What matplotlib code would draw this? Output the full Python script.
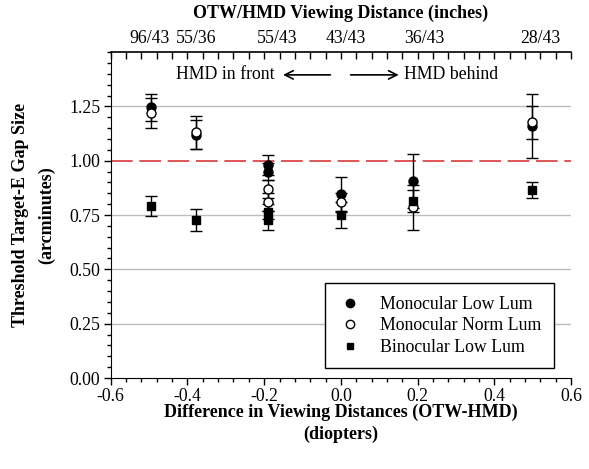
import numpy as np
import matplotlib.pyplot as plt
from matplotlib.ticker import MultipleLocator, FixedLocator, NullFormatter
from matplotlib.lines import Line2D

plt.rcParams['font.family'] = ['Liberation Serif', 'DejaVu Serif']

# Data (diopter differences, threshold gap sizes, errors)
x_pts = [-0.495, -0.378, -0.19, -0.19, 0.0, 0.188, 0.498]

mono_low = [1.245, 1.12, 0.98, 0.95, 0.845, 0.908, 1.16]
mono_low_err = [0.06, 0.067, 0.045, 0.04, 0.08, 0.125, 0.148]

mono_norm = [1.22, 1.13, 0.87, 0.81, 0.81, 0.785, 1.177]
mono_norm_err = [0.068, 0.077, 0.04, 0.04, 0.04, 0.105, 0.076]

bino_low = [0.793, 0.727, 0.765, 0.725, 0.75, 0.815, 0.864]
bino_low_err = [0.046, 0.049, 0.035, 0.045, 0.06, 0.05, 0.036]

top_pos = [-0.5, -0.376, -0.167, 0.013, 0.217, 0.52]
top_labels = ['96/43', '55/36', '55/43', '43/43', '36/43', '28/43']

fig = plt.figure(figsize=(5.89, 4.69), dpi=100)
ax = fig.add_axes([0.188, 0.194, 0.7815, 0.695])

# grid lines and criterion
for yy in [0.25, 0.5, 0.75, 1.25]:
    ax.axhline(yy, color='#bdbdbd', lw=1, zorder=0)
ax.axhline(1.0, color='#d83838', lw=1.2, dashes=(13, 4), zorder=1)

ekw = dict(ecolor='black', elinewidth=1, capsize=4.3, capthick=1, ls='none', zorder=3)
ax.errorbar(x_pts, mono_low, yerr=mono_low_err, fmt='o', color='black', ms=6.5, **ekw)
ax.errorbar(x_pts, mono_norm, yerr=mono_norm_err, fmt='o', mfc='white', mec='black',
            mew=1, ms=6.5, **ekw)
ax.errorbar(x_pts, bino_low, yerr=bino_low_err, fmt='s', color='black', ms=5.5, **ekw)

ax.set_xlim(-0.6, 0.6)
ax.set_ylim(0, 1.5)
ax.set_xticks([-0.6, -0.4, -0.2, 0.0, 0.2, 0.4, 0.6])
ax.set_xticklabels(['-0.6', '-0.4', '-0.2', '0.0', '0.2', '0.4', '0.6'])
ax.set_yticks([0, 0.25, 0.5, 0.75, 1.0, 1.25])
ax.set_yticklabels(['0.00', '0.25', '0.50', '0.75', '1.00', '1.25'])
ax.xaxis.set_minor_locator(MultipleLocator(0.04))
ax.yaxis.set_minor_locator(MultipleLocator(0.05))
ax.tick_params(which='major', direction='out', length=5, labelsize=12.8, width=1, pad=2.5)
ax.tick_params(which='minor', direction='out', length=3, width=1)
ax.spines['right'].set_visible(False)
ax.spines['top'].set_visible(False)

ax.set_xlabel('Difference in Viewing Distances (OTW-HMD)\n(diopters)',
              fontsize=13, fontweight='bold', labelpad=-1, linespacing=1.35)
ax.set_ylabel('Threshold Target-E Gap Size\n(arcminutes)',
              fontsize=13, fontweight='bold', labelpad=10, linespacing=1.7)

# top axis: ticks every 0.04, distance labels as tick-less minor ticks
ax2 = ax.twiny()
ax2.set_xlim(ax.get_xlim())
ax2.xaxis.remove_overlapping_locs = False
ax2.xaxis.set_major_locator(MultipleLocator(0.04))
ax2.xaxis.set_major_formatter(NullFormatter())
ax2.xaxis.set_minor_locator(FixedLocator(top_pos))
ax2.set_xticklabels(top_labels, minor=True)
ax2.tick_params(axis='x', which='major', direction='in', length=5, width=1,
                color='black', top=True, bottom=False)
ax2.tick_params(axis='x', which='minor', length=0, labelsize=12.8, pad=4,
                top=True, bottom=False, labeltop=True, labelbottom=False)
for s in ['right', 'left', 'bottom']:
    ax2.spines[s].set_visible(False)
ax2.spines['top'].set_linewidth(1.2)
ax2.set_xlabel('OTW/HMD Viewing Distance (inches)', fontsize=13, fontweight='bold',
               labelpad=8)

# annotations
arrow_kw = dict(arrowstyle='->,head_length=0.6,head_width=0.3', color='black', lw=1.2)
ax.text(-0.172, 1.395, 'HMD in front', ha='right', va='center', fontsize=12.8)
ax.annotate('', xy=(-0.158, 1.395), xytext=(-0.02, 1.395), arrowprops=arrow_kw)
ax.annotate('', xy=(0.158, 1.395), xytext=(0.018, 1.395), arrowprops=arrow_kw)
ax.text(0.165, 1.395, 'HMD behind', ha='left', va='center', fontsize=12.8)

handles = [
    Line2D([], [], ls='none', marker='o', color='black', ms=6),
    Line2D([], [], ls='none', marker='o', mfc='white', mec='black', ms=6),
    Line2D([], [], ls='none', marker='s', color='black', ms=5),
]
labels = ['Monocular Low Lum', 'Monocular Norm Lum', 'Binocular Low Lum']
leg = ax.legend(handles, labels, loc='lower right', bbox_to_anchor=(0.962, 0.03),
                fontsize=12.8, frameon=True, fancybox=False, edgecolor='black',
                framealpha=1, handlelength=1.4, handletextpad=1.0, borderpad=0.7,
                labelspacing=0.25, borderaxespad=0)
leg.get_frame().set_linewidth(1)

fig.savefig('out.png', dpi=100)
